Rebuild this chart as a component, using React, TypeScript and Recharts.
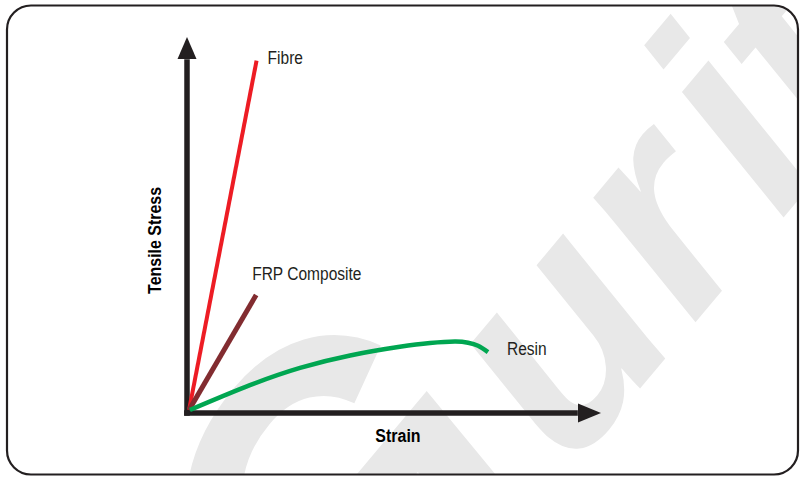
// @ts-nocheck
import { LineChart, Line, XAxis, YAxis, ReferenceLine, ReferenceDot } from 'recharts';

// 曲线数据（应变 / 拉应力，任意单位，按图估读）
const fibreStrain = [0.05, 1.68];
const fibreStress = [0.08, 9.37];
const frpStrain = [0.05, 1.67];
const frpStress = [0.08, 3.14];
const resinStrain = [0.07, 1.52, 2.73, 3.94, 5.14, 5.87, 6.47, 6.79, 7.03, 7.27];
const resinStress = [0.08, 0.74, 1.2, 1.53, 1.76, 1.86, 1.9, 1.87, 1.79, 1.62];

const seriesNames = ['Fibre', 'FRP Composite', 'Resin'];
const axisTitles = { x: 'Strain', y: 'Tensile Stress' };

// 坐标范围
const xMax = 10;
const yMax = 10;
const xAxisEnd = 9.44;
const yAxisEnd = 9.41;

const toPoints = (xs: number[], ys: number[]) => xs.map((x, i) => ({ x, y: ys[i] }));

const fibreData = toPoints(fibreStrain, fibreStress);
const frpData = toPoints(frpStrain, frpStress);
const resinData = toPoints(resinStrain, resinStress);

const AXIS = '#231f20';
const SANS = "'Liberation Sans', Arial, sans-serif";
const SQUEEZE = 0.84; // 模拟窄体字

const center = (vb: any) => ({
  cx: (vb?.x ?? 0) + (vb?.width ?? 0) / 2,
  cy: (vb?.y ?? 0) + (vb?.height ?? 0) / 2,
});

// 系列名称标签
const endLabel = (text: string, dx: number, dy: number) => (props: any) => {
  const { cx, cy } = center(props.viewBox);
  return (
    <text
      transform={`translate(${cx + dx},${cy + dy}) scale(${SQUEEZE},1)`}
      fill={AXIS}
      fontSize={18.5}
      fontFamily={SANS}
    >
      {text}
    </text>
  );
};

const arrowRight = (p: any) => (
  <polygon points={`${p.cx},${p.cy} ${p.cx - 23},${p.cy - 9.5} ${p.cx - 23},${p.cy + 9.5}`} fill={AXIS} />
);
const arrowUp = (p: any) => (
  <polygon points={`${p.cx},${p.cy} ${p.cx - 9.5},${p.cy + 22} ${p.cx + 9.5},${p.cy + 22}`} fill={AXIS} />
);

// 背景水印 + 圆角边框
function Backdrop() {
  return (
    <svg width={800} height={477} style={{ position: 'absolute', left: 0, top: 0 }}>
      <defs>
        <clipPath id="frame">
          <rect x={7} y={5.5} width={791} height={469} rx={24} />
        </clipPath>
      </defs>
      <g clipPath="url(#frame)">
        <text transform="rotate(-50)" fill="#e8e8e8" fontFamily={SANS} fontWeight={700} fontStyle="italic">
          <tspan x={-353} y={740} fontSize={446}>G</tspan>
          <tspan x={5} y={740} fontSize={300}>u</tspan>
          <tspan x={195} y={740} fontSize={300}>r</tspan>
          <tspan x={332} y={740} fontSize={300}>i</tspan>
          <tspan x={415} y={740} fontSize={300}>t</tspan>
        </text>
      </g>
      <rect x={7} y={5.5} width={791} height={469} rx={24} fill="none" stroke={AXIS} strokeWidth={2.2} />
    </svg>
  );
}

export default function App() {
  return (
    <div style={{ position: 'absolute', left: 0, top: 0, width: 800, height: 477, background: '#fff' }}>
      <Backdrop />
      <div style={{ position: 'absolute', left: 0, top: 0 }}>
        <LineChart width={800} height={477} margin={{ top: 37, right: 199, bottom: 64, left: 187 }}>
          <XAxis type="number" dataKey="x" domain={[0, xMax]} hide allowDataOverflow />
          <YAxis type="number" dataKey="y" domain={[0, yMax]} hide allowDataOverflow />

          <ReferenceLine
            segment={[{ x: -0.07, y: 0 }, { x: xAxisEnd, y: 0 }]}
            stroke={AXIS}
            strokeWidth={5.5}
            ifOverflow="visible"
            label={(props: any) => {
              const { cx, cy } = center(props.viewBox);
              return (
                <text
                  transform={`translate(${cx + 17},${cy + 29}) scale(${SQUEEZE},1)`}
                  textAnchor="middle"
                  fill="#000"
                  fontSize={19}
                  fontWeight={700}
                  fontFamily={SANS}
                >
                  {axisTitles.x}
                </text>
              );
            }}
          />
          <ReferenceLine
            segment={[{ x: 0, y: -0.07 }, { x: 0, y: yAxisEnd }]}
            stroke={AXIS}
            strokeWidth={5.5}
            ifOverflow="visible"
            label={(props: any) => {
              const { cx, cy } = center(props.viewBox);
              return (
                <text
                  transform={`translate(${cx - 26},${cy + 3}) rotate(-90) scale(${SQUEEZE},1)`}
                  textAnchor="middle"
                  fill="#000"
                  fontSize={19}
                  fontWeight={700}
                  fontFamily={SANS}
                >
                  {axisTitles.y}
                </text>
              );
            }}
          />
          <ReferenceDot x={xMax} y={0} r={0} shape={arrowRight} ifOverflow="visible" />
          <ReferenceDot x={0} y={yMax} r={0} shape={arrowUp} ifOverflow="visible" />

          <Line data={fibreData} dataKey="y" type="linear" stroke="#ed1c24" strokeWidth={4} dot={false} activeDot={false} isAnimationActive={false} />
          <Line data={frpData} dataKey="y" type="linear" stroke="#822c30" strokeWidth={5} dot={false} activeDot={false} isAnimationActive={false} />
          <Line data={resinData} dataKey="y" type="natural" stroke="#00a651" strokeWidth={4.5} dot={false} activeDot={false} isAnimationActive={false} />

          <ReferenceDot x={fibreStrain[1]} y={fibreStress[1]} r={0} fill="none" stroke="none" label={endLabel(seriesNames[0], 11, 3)} />
          <ReferenceDot x={frpStrain[1]} y={frpStress[1]} r={0} fill="none" stroke="none" label={endLabel(seriesNames[1], -4, -15)} />
          <ReferenceDot
            x={resinStrain[resinStrain.length - 1]}
            y={resinStress[resinStress.length - 1]}
            r={0}
            fill="none"
            stroke="none"
            label={endLabel(seriesNames[2], 19, 3)}
          />
        </LineChart>
      </div>
    </div>
  );
}
